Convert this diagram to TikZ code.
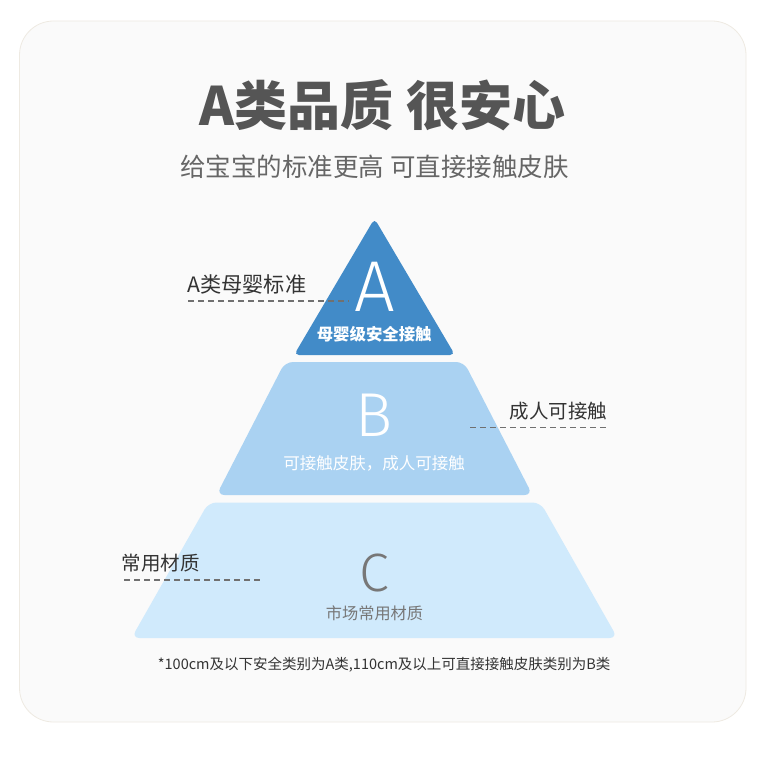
\documentclass[tikz,border=0pt]{standalone}
\usepackage{fontspec}
\setmainfont{Noto Sans CJK SC}
\newfontfamily\lightfont{Fira Sans Light}
\definecolor{cardfill}{HTML}{FAFAFA}
\definecolor{cardline}{HTML}{EEEAE2}
\definecolor{tierA}{HTML}{428BC8}
\definecolor{tierB}{HTML}{AAD2F2}
\definecolor{tierC}{HTML}{D0EAFC}
\definecolor{titlegray}{HTML}{555555}
\definecolor{subgray}{HTML}{666666}
\definecolor{labeldark}{HTML}{333333}
\definecolor{cgray}{HTML}{777777}
\definecolor{dashgray}{HTML}{707070}
\begin{document}
\begin{tikzpicture}[x=1pt,y=-1pt,
  txt/.style={inner sep=0pt,outer sep=0pt},
  letter/.style={txt,anchor=base,text depth=0pt},
  sidelabel/.style={txt,text=labeldark,font=\fontsize{19.5}{19.5}\selectfont},
  leader/.style={draw=dashgray,line width=1.2pt,dash pattern=on 6pt off 4pt},
  tier/.style={rounded corners=#1,draw=none}]
\useasboundingbox (0,0) rectangle (756,757);
\fill[white] (0,0) rectangle (756,757);
% card
\draw[fill=cardfill,draw=cardline,line width=0.8pt,rounded corners=34pt] (19.5,21) rectangle (746,722);
% title
\node[txt,text=titlegray,font=\fontsize{53}{53}\selectfont\bfseries] (title) at (382.5,105) {A类品质 很安心};
\node[txt,text=subgray,font=\fontsize{25.5}{25.5}\selectfont] (subtitle) at (374.4,167) {给宝宝的标准更高 可直接接触皮肤};
% tiers
\fill[tier=5pt,fill=tierA] (374.5,218.5) -- (455,355) -- (294,355) -- cycle;
\fill[tier=8pt,fill=tierB] (285,362) -- (464,362) -- (532.5,495) -- (216.5,495) -- cycle;
\fill[tier=8pt,fill=tierC] (208.5,502.5) -- (540.5,502.5) -- (617.5,638) -- (131.5,638) -- cycle;
% letters
\node[letter,text=white,text height=50pt,font=\fontsize{72}{72}\lightfont] (la) at (374.5,311.7) {A};
\node[letter,text=white,text height=43pt,font=\fontsize{62}{62}\lightfont] (lb) at (374,436) {B};
\node[letter,text=cgray,text height=37pt,font=\fontsize{54}{54}\lightfont] (lc) at (374,591.5) {C};
% tier captions
\node[txt,text=white,font=\fontsize{16.4}{16.4}\selectfont\bfseries] (ca) at (374.2,334) {母婴级安全接触};
\node[txt,text=white,font=\fontsize{16.5}{16.5}\selectfont] (cb) at (374,463.7) {可接触皮肤，成人可接触};
\node[txt,text=cgray,font=\fontsize{16.2}{16.2}\selectfont] (cc) at (374.5,613) {市场常用材质};
% side labels
\node[sidelabel,anchor=west,font=\fontsize{21.2}{21.2}\selectfont] (sa) at (187.5,284) {A类母婴标准};
\node[sidelabel,anchor=east] (sb) at (607,411) {成人可接触};
\node[sidelabel,anchor=west] (sc) at (121.7,563) {常用材质};
\coordinate (da1) at (188,301);
\coordinate (da2) at (349,301);
\coordinate (db1) at (470,427.5);
\coordinate (db2) at (607,427.5);
\coordinate (dc1) at (124,580);
\coordinate (dc2) at (262,580);
\draw[leader] (da1) -- (da2);
\draw[leader] (db1) -- (db2);
\draw[leader] (dc1) -- (dc2);
% footnote
\node[txt,text=labeldark,font=\fontsize{14.5}{14.5}\selectfont] (foot) at (384.2,665) {*100cm及以下安全类别为A类,110cm及以上可直接接触皮肤类别为B类};
\end{tikzpicture}
\end{document}
